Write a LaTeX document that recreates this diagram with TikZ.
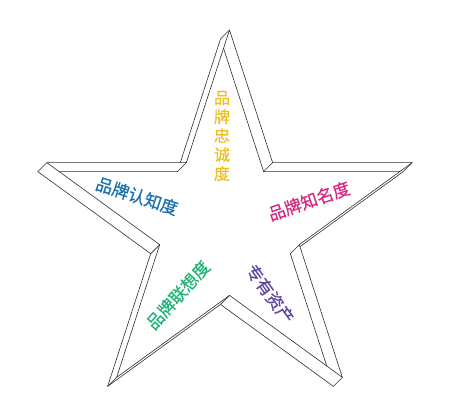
\documentclass[tikz,border=0pt]{standalone}
\usepackage{fontspec}
\newfontfamily\cjk[FakeBold=0.6]{Noto Sans CJK SC}
\usetikzlibrary{calc}
\definecolor{edgecol}{RGB}{45,45,45}
\definecolor{cyellow}{RGB}{236,190,30}
\definecolor{cblue}{RGB}{25,112,172}
\definecolor{cmagenta}{RGB}{214,40,130}
\definecolor{cgreen}{RGB}{38,178,118}
\definecolor{cpurple}{RGB}{96,72,160}
\begin{document}
\begin{tikzpicture}[x=1pt,y=-1pt,
  rim/.style={draw=edgecol, line width=0.6pt, line join=round, line cap=round},
  lbl/.style={font=\cjk\fontsize{17}{20}\selectfont, inner sep=0pt}]
\useasboundingbox (0,0) rectangle (452,412);
% front rim
\coordinate (fT)    at (229.5,30);
\coordinate (fI126) at (186.36,162.62);
\coordinate (fL)    at (46.9,162.67);
\coordinate (fI198) at (159.69,244.68);
\coordinate (fBL)   at (116.65,377.33);
\coordinate (fI270) at (229.5,295.4);
\coordinate (fBR)   at (342.35,377.33);
\coordinate (fI342) at (299.31,244.68);
\coordinate (fR)    at (412.1,162.67);
\coordinate (fI54)  at (272.64,162.62);
% back rim (offset -9,+9)
\coordinate (bT)    at (220.5,39);
\coordinate (bI126) at (177.36,171.62);
\coordinate (bL)    at (37.9,171.67);
\coordinate (bI198) at (150.69,253.68);
\coordinate (bBL)   at (107.65,386.33);
\coordinate (bI270) at (220.5,304.4);
\coordinate (bBR)   at (333.35,386.33);
\coordinate (bI342) at (290.31,253.68);
\coordinate (bR)    at (403.1,171.67);
\coordinate (bI54)  at (263.64,171.62);
% front rim outline
\draw[rim] (fT) -- (fI126) -- (fL) -- (fI198) -- (fBL) -- (fI270) -- (fBR) -- (fI342) -- (fR) -- (fI54) -- cycle;
% connectors
\foreach \v in {T,I126,L,I198,BL,I270,BR,I342,R,I54} \draw[rim] (f\v) -- (b\v);
% back rim, visible parts
\draw[rim] (bI54) -- ($(bT)!9.8pt!(bI54)$);
\draw[rim] (bT) -- ($(bI126)!9.5pt!(bT)$);
\draw[rim] (bI126) -- ($(bL)!21.4pt!(bI126)$);
\draw[rim] (bL) -- (bI198) -- (bBL) -- (bI270) -- (bBR);
\draw[rim] ($(bBR)!21.3pt!(bI342)$) -- (bI342);
\draw[rim] ($(bI342)!11.9pt!(bR)$) -- (bR);
\draw[rim] ($(bR)!3.4pt!(bI54)$) -- (bI54);
% labels
\node[lbl, text=cyellow, font=\cjk\fontsize{16}{19}\selectfont, align=center] (loyal) at (222,136) {品\\牌\\忠\\诚\\度};
\node[lbl, text=cblue, rotate=-18] (aware) at (137,196) {品牌认知度};
\node[lbl, text=cmagenta, rotate=19] (known) at (309,201) {品牌知名度};
\node[lbl, text=cgreen, rotate=48] (assoc) at (178,295) {品牌联想度};
\node[lbl, text=cpurple, rotate=-54] (asset) at (270,294) {专有资产};
\end{tikzpicture}
\end{document}
